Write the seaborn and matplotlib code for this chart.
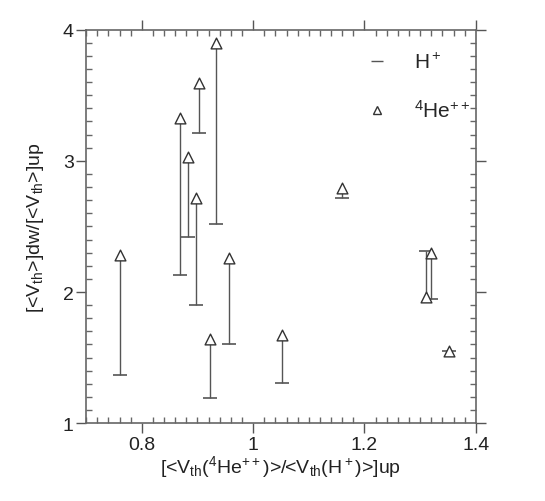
import matplotlib
matplotlib.use("Agg")
import matplotlib.pyplot as plt
import seaborn as sns
import numpy as np
from matplotlib.lines import Line2D
from matplotlib.ticker import MultipleLocator

# data
ratio_up = [0.761, 0.869, 0.883, 0.898, 0.902, 0.922, 0.933, 0.956, 1.051, 1.160, 1.311, 1.320, 1.351]
he_ratio = [2.28, 3.33, 3.03, 2.72, 3.59, 1.64, 3.90, 2.26, 1.67, 2.79, 1.96, 2.30, 1.55]
h_ratio = [1.37, 2.13, 2.42, 1.90, 3.21, 1.19, 2.52, 1.60, 1.31, 2.72, 2.31, 1.95, 1.55]
x_ticks = [0.8, 1.0, 1.2, 1.4]
x_tick_labels = ["0.8", "1", "1.2", "1.4"]
y_ticks = [1, 2, 3, 4]
y_tick_labels = ["1", "2", "3", "4"]

sns.set_theme(style="ticks")
plt.rcParams['font.family'] = ['Liberation Sans', 'DejaVu Sans']
plt.rcParams['mathtext.fontset'] = 'custom'
plt.rcParams['mathtext.rm'] = 'Liberation Sans'
plt.rcParams['mathtext.it'] = 'Liberation Sans'
plt.rcParams['mathtext.default'] = 'regular'

fig = plt.figure(figsize=(5.45, 5.02), dpi=100)
ax = fig.add_axes([0.158, 0.155, 0.715, 0.784])

lc = '#555555'
ax.vlines(ratio_up, h_ratio, he_ratio, color=lc, linewidth=1.0, zorder=1)
sns.scatterplot(x=ratio_up, y=h_ratio, marker='_', s=110, color=lc, linewidth=1.2, ax=ax, zorder=2)
sns.scatterplot(x=ratio_up, y=he_ratio, marker='^', s=60, facecolor='white', edgecolor='#333333', linewidth=1.0, ax=ax, zorder=3)

ax.set_xlim(0.7, 1.4)
ax.set_ylim(1, 4)
ax.set_xticks(x_ticks)
ax.set_xticklabels(x_tick_labels)
ax.set_yticks(y_ticks)
ax.set_yticklabels(y_tick_labels)
ax.xaxis.set_minor_locator(MultipleLocator(0.02))
ax.yaxis.set_minor_locator(MultipleLocator(0.1))
ax.tick_params(which='major', direction='out', length=7, width=1, color='#555555',
               top=True, right=True, bottom=True, left=True, labelsize=14, pad=2, labelcolor='#222222')
ax.tick_params(which='minor', direction='in', length=4, width=1.0, color='#666666',
               top=True, right=True, bottom=True, left=True)
for s in ax.spines.values():
    s.set_visible(True)
    s.set_color('#666666')
    s.set_linewidth(1.2)

ax.set_xlabel(r"[<V$_{th}$($^4$He$^{++}$)>/<V$_{th}$(H$^+$)>]up", fontsize=14, labelpad=0, color='#222222')
ax.set_ylabel(r"[<V$_{th}$>]dw/[<V$_{th}$>]up", fontsize=14, labelpad=12, color='#222222')

handles = [
    Line2D([], [], marker='_', linestyle='none', color=lc, markersize=8, markeredgewidth=1.0),
    Line2D([], [], marker='^', linestyle='none', markerfacecolor='white', markeredgecolor='#333333',
           markersize=6, markeredgewidth=1.0),
]
ax.legend(handles, [r"H$^+$", r"$^4$He$^{++}$"], loc='upper right', frameon=False, fontsize=15,
          handlelength=1.0, handletextpad=1.3, labelspacing=1.3, borderaxespad=0.2,
          bbox_to_anchor=(1.02, 0.975))

fig.savefig("out.png", dpi=100)
